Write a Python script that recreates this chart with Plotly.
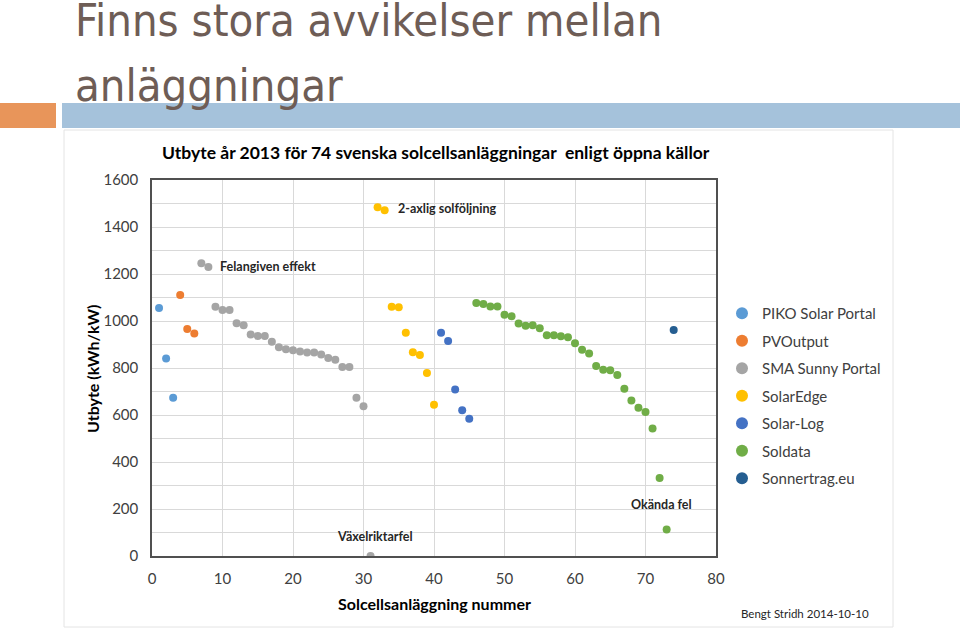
import plotly.graph_objects as go

# ---- data ----
piko_x = [1, 2, 3]
piko_y = [1055, 840, 673]
pvo_x = [4, 5, 6]
pvo_y = [1111, 966, 947]
sma_x = list(range(7, 32))
sma_y = [1246, 1230, 1061, 1047, 1047, 990, 982, 943, 936, 936, 912, 888,
         880, 876, 870, 866, 866, 857, 843, 835, 804, 804, 673, 637, 0]
se_x = [32, 33, 34, 35, 36, 37, 38, 39, 40]
se_y = [1484, 1471, 1061, 1058, 950, 867, 855, 779, 644]
sl_x = [41, 42, 43, 44, 45]
sl_y = [950, 915, 708, 620, 584]
sol_x = list(range(46, 74))
sol_y = [1077, 1072, 1062, 1062, 1027, 1020, 989, 980, 982, 969, 939, 939,
         935, 931, 905, 878, 862, 809, 793, 790, 770, 712, 662, 631, 613,
         543, 332, 113]
son_x = [74]
son_y = [962]

series = [
    ("PIKO Solar Portal", piko_x, piko_y, "#5B9BD5"),
    ("PVOutput", pvo_x, pvo_y, "#ED7D31"),
    ("SMA Sunny Portal", sma_x, sma_y, "#A5A5A5"),
    ("SolarEdge", se_x, se_y, "#FFC000"),
    ("Solar-Log", sl_x, sl_y, "#4472C4"),
    ("Soldata", sol_x, sol_y, "#70AD47"),
    ("Sonnertrag.eu", son_x, son_y, "#255E91"),
]

notes = [
    ("Felangiven effekt", 9.4, 1234),
    ("2-axlig solföljning", 34.6, 1477),
    ("Växelriktarfel", 26.0, 81),
    ("Okända fel", 67.6, 221),
]

W, H = 960, 630
FONT = "Lato, Noto Sans, sans-serif"

fig = go.Figure()
for i, (name, xs, ys, col) in enumerate(series):
    fig.add_trace(go.Scatter(
        x=xs, y=ys, mode="markers", name=name,
        legendgroup=f"g{i}",
        marker=dict(color=col, size=8, line=dict(width=0)),
    ))

def px(x):
    return x / W

def py(y):
    return 1 - y / H

fig.update_layout(
    width=W, height=H,
    margin=dict(l=0, r=0, t=0, b=0, autoexpand=False),
    paper_bgcolor="white", plot_bgcolor="white",
    showlegend=True,
    legend=dict(
        x=px(722), y=py(297), xanchor="left", yanchor="top",
        font=dict(family=FONT, size=15, color="#404040"),
        tracegroupgap=5, itemsizing="constant",
        bgcolor="rgba(0,0,0,0)",
    ),
    xaxis=dict(
        domain=[px(152), px(716)], range=[0, 80], dtick=10,
        showgrid=True, gridcolor="#D9D9D9", gridwidth=1,
        zeroline=False, showline=True, linecolor="#505050", linewidth=1.5,
        mirror=True, ticks="", ticklabelstandoff=8,
        tickfont=dict(family=FONT, size=15, color="#404040"),
    ),
    yaxis=dict(
        domain=[py(556), py(180)], range=[0, 1600], dtick=200,
        showgrid=True, gridcolor="#D9D9D9", gridwidth=1,
        minor=dict(dtick=100, showgrid=True, gridcolor="#D9D9D9", gridwidth=1),
        zeroline=False, showline=True, linecolor="#505050", linewidth=1.5,
        mirror=True, ticks="", ticklabelstandoff=9,
        tickfont=dict(family=FONT, size=15, color="#404040"),
    ),
)

# slide decorations
fig.add_shape(type="rect", xref="paper", yref="paper",
              x0=px(0), x1=px(56), y0=py(128), y1=py(103),
              fillcolor="#E8955A", line=dict(width=0), layer="below")
fig.add_shape(type="rect", xref="paper", yref="paper",
              x0=px(62), x1=px(960), y0=py(128), y1=py(103),
              fillcolor="#A5C2DB", line=dict(width=0), layer="below")
fig.add_shape(type="rect", xref="paper", yref="paper",
              x0=px(64), x1=px(893), y0=py(627), y1=py(130),
              fillcolor="rgba(0,0,0,0)", line=dict(width=1, color="#E4E4E4"),
              layer="below")

TITLE_FONT = "DejaVu Sans Condensed, Liberation Sans Narrow, sans-serif"
fig.add_annotation(text="Finns stora avvikelser mellan", xref="paper", yref="paper",
                   x=px(73), y=py(21), xanchor="left", yanchor="middle",
                   showarrow=False,
                   font=dict(family=TITLE_FONT, size=45, color="#6E5D56"))
fig.add_annotation(text="anläggningar", xref="paper", yref="paper",
                   x=px(73), y=py(86), xanchor="left", yanchor="middle",
                   showarrow=False,
                   font=dict(family=TITLE_FONT, size=45, color="#6E5D56"))

fig.add_annotation(text="<b>Utbyte år 2013 för 74 svenska solcellsanläggningar  enligt öppna källor</b>",
                   xref="paper", yref="paper", x=px(436), y=py(152),
                   xanchor="center", yanchor="middle", showarrow=False,
                   font=dict(family=FONT, size=17.5, color="#000000"))

fig.add_annotation(text="<b>Solcellsanläggning nummer</b>",
                   xref="paper", yref="paper", x=px(434), y=py(603),
                   xanchor="center", yanchor="middle", showarrow=False,
                   font=dict(family=FONT, size=16, color="#000000"))
fig.add_annotation(text="<b>Utbyte (kWh/kW)</b>", textangle=-90,
                   xref="paper", yref="paper", x=px(92), y=py(369),
                   xanchor="center", yanchor="middle", showarrow=False,
                   font=dict(family=FONT, size=16, color="#000000"))

for txt, x, y in notes:
    fig.add_annotation(text=f"<b>{txt}</b>", x=x, y=y, xref="x", yref="y",
                       xanchor="left", yanchor="middle", showarrow=False,
                       font=dict(family=FONT, size=12.5, color="#262626"))

fig.add_annotation(text="Bengt Stridh 2014-10-10", xref="paper", yref="paper",
                   x=px(739), y=py(613), xanchor="left", yanchor="middle",
                   showarrow=False,
                   font=dict(family=FONT, size=11.5, color="#262626"))

fig.write_html("out.html", config={"displayModeBar": False},
               post_script="document.body.style.margin='0';")
